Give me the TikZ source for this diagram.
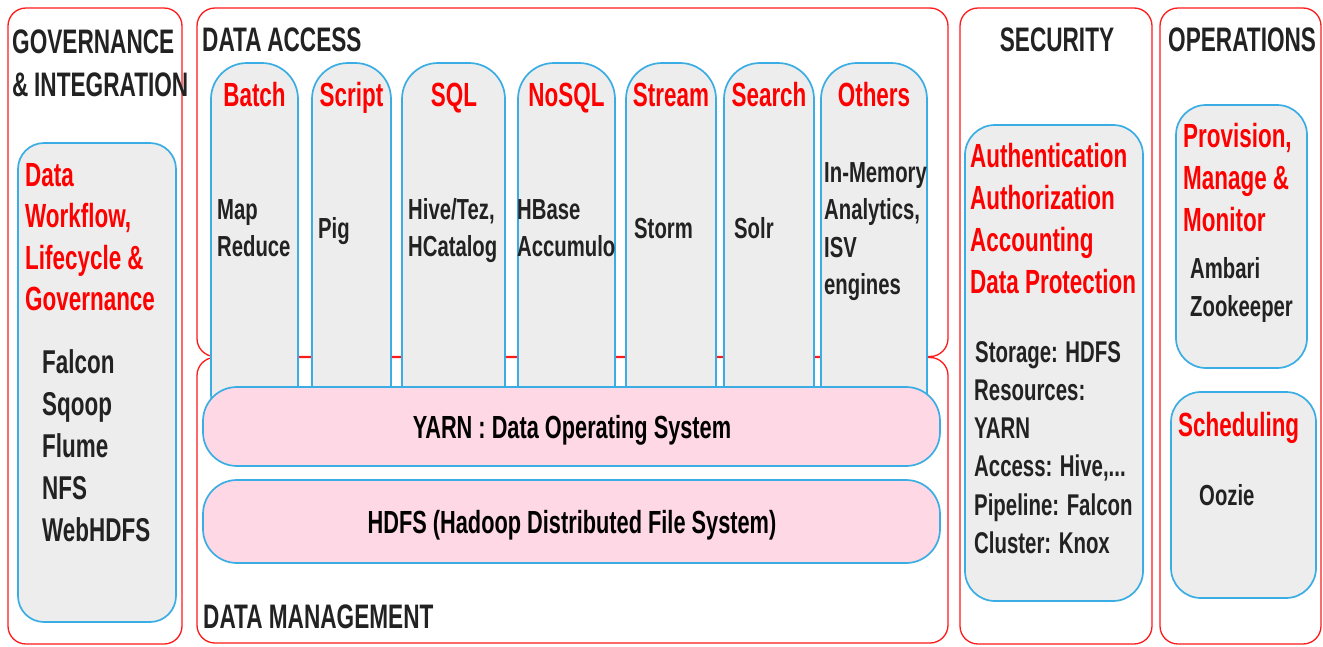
\documentclass[tikz,border=0pt]{standalone}
\usepackage{fontspec}
\setmainfont{Liberation Sans}
\newfontfamily\ttlfont{Liberation Sans}[FakeStretch=0.665]
\newfontfamily\redfont{Liberation Sans}[FakeStretch=0.67]
\newfontfamily\govfont{Liberation Sans}[FakeStretch=0.68]
\newfontfamily\secfont{Liberation Sans}[FakeStretch=0.68]
\newfontfamily\itemfont{Liberation Sans}[FakeStretch=0.70]
\newfontfamily\barfont{Liberation Sans}[FakeStretch=0.68]
\definecolor{rb}{HTML}{FF1A1A}
\definecolor{bb}{HTML}{3AAEE4}
\definecolor{gf}{HTML}{EDEDED}
\definecolor{pk}{HTML}{FFD8E6}
\definecolor{tx}{HTML}{222222}
\definecolor{rt}{HTML}{FF0000}
\tikzset{
  outer/.style={draw=rb, line width=1.3pt, rounded corners=18pt},
  inner/.style={draw=bb, line width=1.7pt, fill=gf, rounded corners=28pt},
  colbox/.style={draw=bb, line width=1.7pt, fill=gf, rounded corners=36pt},
  bar/.style={draw=bb, line width=1.7pt, fill=pk, rounded corners=34pt},
  ttl/.style={anchor=base west, inner sep=0pt, text=tx, font=\ttlfont\bfseries\fontsize{34}{34}\selectfont},
  red/.style={anchor=base west, inner sep=0pt, text=rt, font=\redfont\bfseries\fontsize{33.5}{33.5}\selectfont},
  item/.style={anchor=base west, inner sep=0pt, text=tx, font=\itemfont\bfseries\fontsize{29}{29}\selectfont},
  govitem/.style={item, font=\govfont\bfseries\fontsize{33}{33}\selectfont},
  secitem/.style={item, font=\secfont\bfseries\fontsize{30}{30}\selectfont},
  bartxt/.style={anchor=base, inner sep=0pt, text=black, font=\barfont\bfseries\fontsize{32}{32}\selectfont},
}
\begin{document}
\begin{tikzpicture}[x=1pt,y=-1pt]
\useasboundingbox[fill=white] (0,0) rectangle (1323,646);
% outer red boxes
\draw[outer] (8,8) rectangle (182,644);
\draw[outer] (197,8) rectangle (948,356.5);
\draw[outer] (197,357.5) rectangle (948,643);
\draw[outer] (960,8) rectangle (1152,644);
\draw[outer] (1160,8) rectangle (1321,644);
% columns
\foreach \xa/\xb in {211/298, 312/391, 402/505, 518/615, 626/716, 724/814, 821/927}
  \draw[colbox] (\xa,63) rectangle (\xb,430);
% bars
\draw[bar] (203,387) rectangle (940,466);
\draw[bar] (203,480) rectangle (940,563);
% other blue boxes
\draw[inner, rounded corners=26pt] (18,143) rectangle (176,622);
\draw[inner, rounded corners=30pt] (965,125) rectangle (1143,601);
\draw[inner, rounded corners=30pt] (1176,105) rectangle (1307,368);
\draw[inner, rounded corners=30pt] (1171,392) rectangle (1316,598);
% titles
\node[ttl] (tgov1) at (12,53) {GOVERNANCE};
\node[ttl] (tgov2) at (12,96) {\&\,INTEGRATION};
\node[ttl] (tacc) at (202,51) {DATA\,ACCESS};
\node[ttl] (tman) at (203,628) {DATA MANAGEMENT};
\node[ttl, anchor=base] (tsec) at (1057,51) {SECURITY};
\node[ttl] (tops) at (1168,51) {OPERATIONS};
% governance contents
\foreach \t [count=\i] in {Data, {Workflow,}, {Lifecycle \&}, Governance}
  \node[red] (gr\i) at (25,{186+(\i-1)*41.5}) {\t};
\foreach \t [count=\i] in {Falcon, Sqoop, Flume, NFS, WebHDFS}
  \node[govitem] (gi\i) at (42,{373+(\i-1)*42}) {\t};
% column headers
\foreach \t/\cx [count=\i] in {Batch/254.5, Script/351.5, SQL/454, NoSQL/566.5, Stream/671, Search/769, Others/874}
  \node[red, anchor=base] (ch\i) at (\cx,106) {\t};
% column contents
\node[item] (c1a) at (217,219) {Map};
\node[item] (c1b) at (217,256) {Reduce};
\node[item] (c2a) at (318,238) {Pig};
\node[item] (c3a) at (408,219) {Hive/Tez,};
\node[item] (c3b) at (408,256) {HCatalog};
\node[item] (c4a) at (517,219) {HBase};
\node[item] (c4b) at (517,256) {Accumulo};
\node[item] (c5a) at (634,238) {Storm};
\node[item] (c6a) at (734,238) {Solr};
\foreach \t [count=\i] in {In-Memory, {Analytics,}, ISV, engines}
  \node[item] (c7\i) at (824,{182+(\i-1)*37.5}) {\t};
% bars text
\node[bartxt] (yarn) at (572,438) {YARN : Data Operating System};
\node[bartxt] (hdfs) at (572,533) {HDFS (Hadoop Distributed File System)};
% security
\foreach \t [count=\i] in {Authentication, Authorization, Accounting, {Data Protection}}
  \node[red] (sr\i) at (970,{167+(\i-1)*42}) {\t};
\node[secitem] (si1) at (975,362) {Storage: HDFS};
\node[secitem] (si2) at (974,400) {Resources:};
\node[secitem] (si3) at (974,438) {YARN};
\node[secitem] (si4) at (974,476.5) {Access: Hive,...};
\node[secitem] (si5) at (974,515) {Pipeline: Falcon};
\node[secitem] (si6) at (974,553) {Cluster: Knox};
% operations
\foreach \t [count=\i] in {{Provision,}, {Manage \&}, Monitor}
  \node[red] (or\i) at (1183,{147+(\i-1)*42}) {\t};
\node[item] (oi1) at (1190,278) {Ambari};
\node[item] (oi2) at (1190,316) {Zookeeper};
\node[red] (sch) at (1178,436) {Scheduling};
\node[item] (ooz) at (1199,505) {Oozie};
\end{tikzpicture}
\end{document}
